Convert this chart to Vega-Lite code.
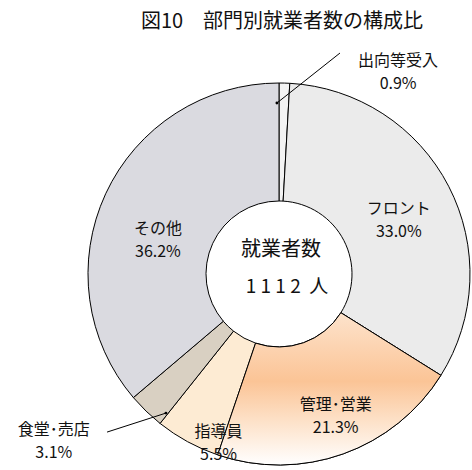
{
  "$schema": "https://vega.github.io/schema/vega-lite/v6.json",
  "width": 380,
  "height": 380,
  "autosize": {"type": "none"},
  "padding": {"left": 89, "top": 84, "right": 3, "bottom": 6},
  "background": "white",
  "config": {"view": {"stroke": null}},
  "title": {
    "text": "図10　部門別就業者数の構成比",
    "fontSize": 20,
    "font": "Noto Sans CJK JP",
    "fontWeight": "normal",
    "color": "#111111",
    "anchor": "middle",
    "frame": "group",
    "baseline": "bottom",
    "offset": 1,
    "dx": 3
  },
  "data": {
    "values": [
      {"name": "出向等受入", "share": 0.009, "order": 1},
      {"name": "フロント", "share": 0.330, "order": 2},
      {"name": "管理･営業", "share": 0.213, "order": 3},
      {"name": "指導員", "share": 0.055, "order": 4},
      {"name": "食堂･売店", "share": 0.031, "order": 5},
      {"name": "その他", "share": 0.362, "order": 6}
    ]
  },
  "transform": [
    {"stack": "share", "groupby": [], "sort": [{"field": "order"}], "as": ["s0", "s1"]},
    {"calculate": "(datum.s0 + datum.s1) / 2", "as": "mid"},
    {"calculate": "datum.name + '\\n' + format(datum.share, '.1%')", "as": "label"}
  ],
  "layer": [
    {
      "mark": {"type": "arc", "outerRadius": 191, "innerRadius": 73, "stroke": "#000000", "strokeWidth": 1},
      "encoding": {
        "theta": {"field": "s0", "type": "quantitative", "stack": null, "scale": {"type": "linear", "domain": [0, 1], "zero": true}},
        "theta2": {"field": "s1"},
        "color": {
          "field": "name",
          "type": "nominal",
          "legend": null,
          "scale": {
            "domain": ["出向等受入", "フロント", "管理･営業", "指導員", "食堂･売店", "その他"],
            "range": ["#f3f3f3", "#ebebeb", "#fbcba0", "#fdebd3", "#d9d0c2", "#dadae0"]
          }
        }
      }
    },
    {
      "transform": [{"filter": "datum.name == '管理･営業'"}],
      "mark": {
        "type": "arc", "outerRadius": 191, "innerRadius": 73, "stroke": "#000000", "strokeWidth": 1,
        "fill": {
          "gradient": "linear", "x1": 0, "y1": 0, "x2": 0, "y2": 1,
          "stops": [
            {"offset": 0, "color": "#fde3cc"},
            {"offset": 0.45, "color": "#fbc496"},
            {"offset": 0.7, "color": "#fde0c6"},
            {"offset": 1, "color": "#ffffff"}
          ]
        }
      },
      "encoding": {
        "theta": {"field": "s0", "type": "quantitative", "stack": null},
        "theta2": {"field": "s1"}
      }
    },
    {
      "transform": [{"filter": "datum.name == '出向等受入'"}],
      "mark": {"type": "text", "radius": 216, "dx": 113, "dy": 3, "lineBreak": "\n", "align": "center", "baseline": "middle", "fontSize": 16, "font": "Liberation Sans Narrow, Noto Sans CJK JP", "lineHeight": 23, "color": "#111111"},
      "encoding": {"theta": {"field": "mid", "type": "quantitative", "stack": null}, "text": {"field": "label"}}
    },
    {
      "transform": [{"filter": "datum.name == 'フロント'"}],
      "mark": {"type": "text", "radius": 136, "dx": -1, "dy": -2, "lineBreak": "\n", "align": "center", "baseline": "middle", "fontSize": 16, "font": "Liberation Sans Narrow, Noto Sans CJK JP", "lineHeight": 23, "color": "#111111"},
      "encoding": {"theta": {"field": "mid", "type": "quantitative", "stack": null}, "text": {"field": "label"}}
    },
    {
      "transform": [{"filter": "datum.name == '管理･営業'"}],
      "mark": {"type": "text", "radius": 142, "dx": 9, "dy": -3, "lineBreak": "\n", "align": "center", "baseline": "middle", "fontSize": 16, "font": "Liberation Sans Narrow, Noto Sans CJK JP", "lineHeight": 23, "color": "#111111"},
      "encoding": {"theta": {"field": "mid", "type": "quantitative", "stack": null}, "text": {"field": "label"}}
    },
    {
      "transform": [{"filter": "datum.name == '指導員'"}],
      "mark": {"type": "text", "radius": 168, "dx": 20, "dy": 11, "lineBreak": "\n", "align": "center", "baseline": "middle", "fontSize": 16, "font": "Liberation Sans Narrow, Noto Sans CJK JP", "lineHeight": 23, "color": "#111111"},
      "encoding": {"theta": {"field": "mid", "type": "quantitative", "stack": null}, "text": {"field": "label"}}
    },
    {
      "transform": [{"filter": "datum.name == '食堂･売店'"}],
      "mark": {"type": "text", "radius": 269, "dx": -38, "dy": -37, "lineBreak": "\n", "align": "center", "baseline": "middle", "fontSize": 16, "font": "Liberation Sans Narrow, Noto Sans CJK JP", "lineHeight": 23, "color": "#111111"},
      "encoding": {"theta": {"field": "mid", "type": "quantitative", "stack": null}, "text": {"field": "label"}}
    },
    {
      "transform": [{"filter": "datum.name == 'その他'"}],
      "mark": {"type": "text", "radius": 129, "dx": -4, "dy": 9, "lineBreak": "\n", "align": "center", "baseline": "middle", "fontSize": 16, "font": "Liberation Sans Narrow, Noto Sans CJK JP", "lineHeight": 23, "color": "#111111"},
      "encoding": {"theta": {"field": "mid", "type": "quantitative", "stack": null}, "text": {"field": "label"}}
    },
    {
      "data": {"values": [{"t": "就業者数"}]},
      "mark": {"type": "text", "dx": 2, "dy": -24, "align": "center", "baseline": "middle", "fontSize": 20, "font": "Noto Sans CJK JP", "color": "#111111"},
      "encoding": {"text": {"field": "t"}}
    },
    {
      "data": {"values": [{"t": "1 1 1 2\u00a0\u00a0人"}]},
      "mark": {"type": "text", "dx": 8, "dy": 13, "align": "center", "baseline": "middle", "fontSize": 19, "font": "Liberation Sans Narrow, Noto Sans CJK JP", "color": "#111111"},
      "encoding": {"text": {"field": "t"}}
    },
    {
      "data": {"values": [
        {"x": -0.011, "y": 0.9, "x2": 0.321, "y2": 1.163},
        {"x": -0.595, "y": -0.732, "x2": -0.905, "y2": -0.832}
      ]},
      "layer": [
        {
          "mark": {"type": "rule", "color": "#000000", "strokeWidth": 1},
          "encoding": {
            "x": {"field": "x", "type": "quantitative", "scale": {"domain": [-1, 1]}, "axis": null},
            "y": {"field": "y", "type": "quantitative", "scale": {"domain": [-1, 1]}, "axis": null},
            "x2": {"field": "x2"},
            "y2": {"field": "y2"}
          }
        },
        {
          "mark": {"type": "point", "filled": true, "color": "#000000", "size": 8, "opacity": 1},
          "encoding": {
            "x": {"field": "x", "type": "quantitative", "scale": {"domain": [-1, 1]}, "axis": null},
            "y": {"field": "y", "type": "quantitative", "scale": {"domain": [-1, 1]}, "axis": null}
          }
        }
      ]
    }
  ]
}
